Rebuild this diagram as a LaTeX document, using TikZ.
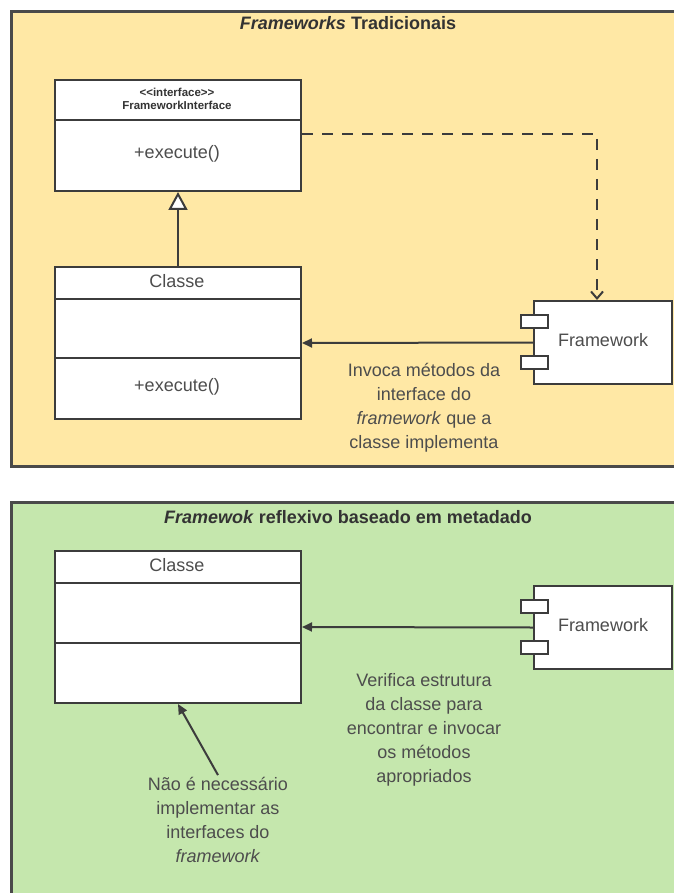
\documentclass[tikz,border=0pt]{standalone}
\usepackage{fontspec}
\setmainfont{Liberation Sans}
\usetikzlibrary{arrows.meta,calc}

\definecolor{panelYellow}{HTML}{FFE8A5}
\definecolor{panelGreen}{HTML}{C5E7AD}
\definecolor{edge}{HTML}{3C3C3C}
\definecolor{panelEdge}{HTML}{4A4A4A}
\definecolor{ink}{HTML}{4D4D4D}
\definecolor{titleInk}{HTML}{333333}

\tikzset{
  panel/.style={draw=panelEdge, line width=3pt},
  umlbox/.style={draw=edge, fill=white, line width=2pt, inner sep=0pt,
    anchor=north west, minimum width=246pt},
  divider/.style={draw=edge, line width=2pt},
  body/.style={draw=edge, fill=white, line width=2pt, inner sep=0pt,
    anchor=north west, minimum width=138pt, minimum height=83pt},
  port/.style={draw=edge, fill=white, line width=2pt, inner sep=0pt,
    minimum width=27pt, minimum height=13pt},
  txt/.style={text=ink, font=\fontsize{18}{24}\selectfont, inner sep=0pt},
  title/.style={text=titleInk, font=\fontsize{18}{22}\selectfont\bfseries, inner sep=0pt},
  note/.style={txt, align=center},
  conn/.style={draw=edge, line width=2pt},
  solidtip/.style={conn, -{Triangle[length=10pt,width=9pt]}},
  depend/.style={conn, dash pattern=on 11pt off 9pt,
    -{Straight Barb[length=7pt,width=12pt,line width=2pt]}},
  inherit/.style={conn, -{Triangle[open,fill=white,length=18pt,width=19pt,line width=2pt]}},
}

\begin{document}
\begin{tikzpicture}[x=1pt,y=-1pt]
\useasboundingbox (0,0) rectangle (673,893);

% ---------- traditional frameworks ----------
\fill[white] (0,0) rectangle (673,893);
\draw[panel, fill=panelYellow] (11.5,11.5) rectangle (690,466);
\node[title] (titleA) at (348,23) {\textit{Frameworks} Tradicionais};

% interface
\node[umlbox, minimum height=111pt] (iface) at (54,79) {};
\draw[divider] (54,120) -- (300,120);
\node[text=titleInk, font=\fontsize{11.5}{13.5}\selectfont\bfseries, align=center, inner sep=0pt]
  (ifaceName) at (177,99) {{<}{<}interface{>}{>}\\FrameworkInterface};
\node[txt] (ifaceOp) at (177,154) {+execute()};

% implementing class
\node[umlbox, minimum height=152pt] (cls) at (54,266) {};
\draw[divider] (54,299) -- (300,299);
\draw[divider] (54,358) -- (300,358);
\node[txt] (clsName) at (177,281) {Classe};
\node[txt] (clsOp) at (177,387) {+execute()};

% framework component
\node[body] (fw) at (533,300) {};
\node[port] (fwPortA) at (534.5,321) {};
\node[port] (fwPortB) at (534.5,362) {};
\node[txt] (fwName) at (603,340) {Framework};

% connectors
\draw[inherit] (cls.north) -- (iface.south);
\draw[depend] (iface.east |- 0,134) -| ($(fw.north)+(-6,0)$);
\draw[solidtip] (fw.west) -- (cls.east);
\node[note] (callNote) at (424,408)
  {Invoca métodos da\\interface do\\\textit{framework} que a\\classe implementa};

% ---------- reflective framework ----------
\draw[panel, fill=panelGreen] (11.5,502) rectangle (690,910);
\node[title] (titleB) at (348,517) {\textit{Framewok} reflexivo baseado em metadado};

% plain class
\node[umlbox, minimum height=152pt] (plain) at (54,550) {};
\draw[divider] (54,583) -- (300,583);
\draw[divider] (54,643) -- (300,643);
\node[txt] (plainName) at (177,565) {Classe};

% framework component
\node[body] (fwR) at (533,585) {};
\node[port] (fwRPortA) at (534.5,606) {};
\node[port] (fwRPortB) at (534.5,647) {};
\node[txt] (fwRName) at (603,625) {Framework};

% connectors and notes
\draw[solidtip] (fwR.west) -- (plain.east);
\node[note] (inspectNote) at (424,730)
  {Verifica estrutura\\da classe para\\encontrar e invocar\\os métodos\\apropriados};
\node[note] (freeNote) at (218,820)
  {Não é necessário\\implementar as\\interfaces do\\\textit{framework}};
\draw[solidtip] ($(freeNote.north)+(0,-2)$) -- (plain.south);
\end{tikzpicture}
\end{document}
